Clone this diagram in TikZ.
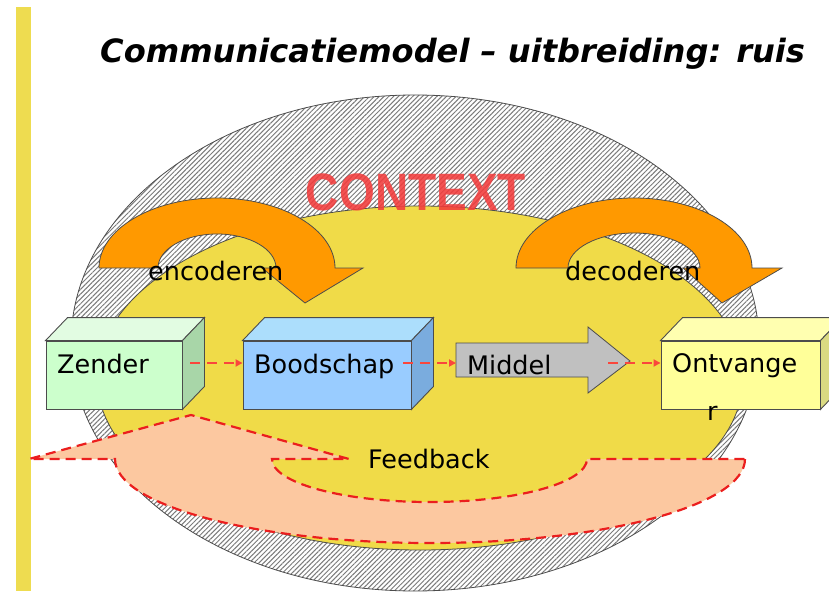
\documentclass[tikz,border=0pt]{standalone}
\usepackage{fontspec}
\usepackage{graphicx}
\setmainfont{DejaVu Sans}
\newfontfamily\ctxfont{Liberation Sans}
\usetikzlibrary{arrows.meta,patterns.meta}
\definecolor{baryellow}{RGB}{238,220,80}
\definecolor{ctxyellow}{RGB}{240,219,72}
\definecolor{arrorange}{RGB}{255,153,0}
\definecolor{fbfill}{RGB}{252,200,160}
\definecolor{dashred}{RGB}{235,30,30}
\definecolor{flowred}{RGB}{250,70,60}
\definecolor{ctxred}{RGB}{242,60,60}
\definecolor{zfront}{RGB}{204,255,204}
\definecolor{ztop}{RGB}{226,252,226}
\definecolor{zside}{RGB}{168,214,168}
\definecolor{bfront}{RGB}{153,204,255}
\definecolor{btop}{RGB}{172,222,252}
\definecolor{bside}{RGB}{122,172,222}
\definecolor{ofront}{RGB}{255,255,153}
\definecolor{otop}{RGB}{255,255,176}
\definecolor{oside}{RGB}{218,218,130}
\definecolor{midgray}{RGB}{192,192,192}
\tikzset{
  boxedge/.style={draw=black!70, line width=0.9pt},
  boxfront/.style={boxedge, rectangle, minimum height=68pt, inner sep=0pt},
  lbl/.style={inner sep=0pt, anchor=base west, font=\fontsize{25.5}{30}\selectfont},
  flowarrow/.style={draw=flowred, line width=2pt, dash pattern=on 10pt off 7pt,
    -{Triangle[length=7pt,width=7pt]}},
  fbshape/.style={draw=dashred, line width=2.2pt, dash pattern=on 10pt off 6pt, fill=fbfill},
  orangearrow/.style={draw=black!70, line width=0.8pt, fill=arrorange},
}
\newcommand\mycuboid[6]{%
  \node[boxfront, fill=#4, minimum width=#3] (#1) at (#2) {};
  \draw[boxedge, fill=#5] (#1.north west) -- ++(22pt,23pt)
     -- ([shift={(22pt,23pt)}]#1.north east) -- (#1.north east) -- cycle;
  \draw[boxedge, fill=#6] (#1.north east) -- ++(22pt,23pt)
     -- ([shift={(22pt,23pt)}]#1.south east) -- (#1.south east) -- cycle;
}
\begin{document}
\begin{tikzpicture}[x=1pt,y=-1pt]
\useasboundingbox[fill=white] (0,0) rectangle (829,591);
% left bar
\fill[baryellow] (16,7) rectangle (31,591);
% title
\node[inner sep=0pt, anchor=base west, font=\fontsize{32.1}{38}\selectfont\bfseries\itshape] (title) at (100,63) {Communicatiemodel – uitbreiding: ruis};
% context ellipses
\path[pattern={Lines[angle=45,distance=3.4pt,line width=1pt]}, pattern color=black!52] (415,343) ellipse [x radius=344pt, y radius=248pt];
\draw[black!70, line width=0.8pt] (415,343) ellipse [x radius=344pt, y radius=248pt];
\draw[black!70, line width=0.8pt, fill=ctxyellow] (420,378) ellipse [x radius=323pt, y radius=172pt];
\node[inner sep=0pt, anchor=base, text=ctxred, text opacity=0.88, font=\fontsize{47}{50}\selectfont\ctxfont\bfseries] (context) at (416,210) {\scalebox{0.98}[1.12]{CONTEXT}};
% orange arrows
\draw[orangearrow] (99,268) arc[start angle=180, end angle=0, x radius=118pt, y radius=70pt]
  -- (363,268) -- (305,303) -- (262,268) -- (276,268)
  arc[start angle=0, end angle=180, x radius=59pt, y radius=34pt] -- cycle;
\draw[orangearrow] (516,268) arc[start angle=180, end angle=0, x radius=118pt, y radius=70pt]
  -- (782,268) -- (722,303) -- (683,268) -- (700,268)
  arc[start angle=0, end angle=180, x radius=66pt, y radius=35pt] -- cycle;
\node[lbl] (enc) at (148,280) {encoderen};
\node[lbl] (dec) at (565,280) {decoderen};
% boxes
\mycuboid{zender}{114,375}{136pt}{zfront}{ztop}{zside}
\mycuboid{bood}{327,375}{168pt}{bfront}{btop}{bside}
\mycuboid{ontv}{740.5,375}{159pt}{ofront}{otop}{oside}
% middel arrow
\draw[boxedge, line width=0.8pt, fill=midgray] (456,343) -- (588,343) -- (588,327) -- (630,361)
  -- (588,393) -- (588,377) -- (456,377) -- cycle;
\coordinate (midin) at (456,363);
\coordinate (midtip) at (630,361);
\node[lbl] (zlbl) at (57,373) {Zender};
\node[lbl] (blbl) at (254,373) {Boodschap};
\node[lbl] (mlbl) at (467,374) {Middel};
\node[lbl] (olbl) at (672,372) {Ontvange};
\node[lbl] (olbl2) at (707,420) {r};
% connectors
\draw[flowarrow] ([xshift=8pt,yshift=12pt]zender.east) -- ([yshift=12pt]bood.west);
\draw[flowarrow] ([xshift=-8pt,yshift=12pt]bood.east) -- (midin);
\draw[flowarrow] ([xshift=-22pt,yshift=-2pt]midtip) -- ([yshift=12pt]ontv.west);
% feedback
\draw[fbshape] (745,459) arc[start angle=0, end angle=-180, x radius=315pt, y radius=84pt]
  -- (29,459) -- (191,415) -- (349,459) -- (272,459)
  arc[start angle=180, end angle=360, x radius=157.5pt, y radius=43pt] -- cycle;
\node[lbl] (fb) at (368,468) {Feedback};
\end{tikzpicture}
\end{document}
